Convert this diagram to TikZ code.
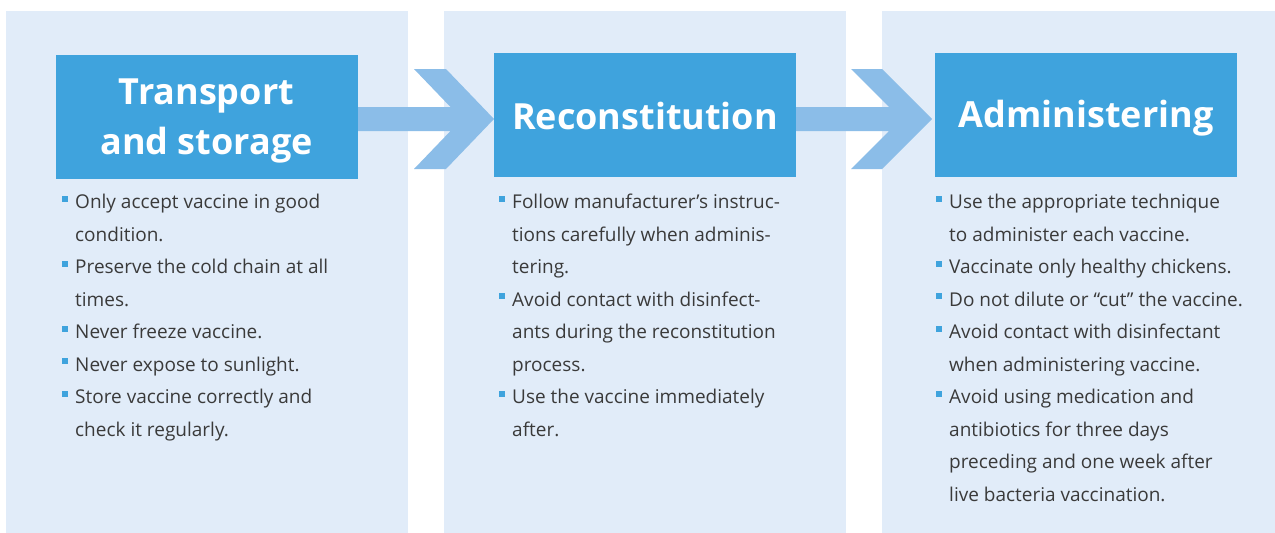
\documentclass[tikz,border=0pt]{standalone}
\usepackage{fontspec}
\setmainfont{Open Sans}
\definecolor{panelbg}{HTML}{E1ECF9}
\definecolor{headblue}{HTML}{3FA3DD}
\definecolor{arrowblue}{HTML}{8BBDE8}
\definecolor{bodygray}{HTML}{3A3A3A}
\newcommand\bul{\makebox[0pt][r]{\textcolor{headblue}{\rule[7pt]{6pt}{6pt}}\hspace{7pt}}}
\tikzset{
  panel/.style={fill=panelbg, draw=none},
  header/.style={fill=headblue, draw=none, inner sep=0pt, minimum width=302pt, minimum height=124pt},
  headtxt/.style={text=white, align=center, inner sep=0pt,
    font={\bfseries\fontsize{36}{50}\selectfont}},
  arrowshape/.style={fill=arrowblue, draw=none},
  bodytxt/.style={anchor=base west, inner sep=0pt, text=bodygray,
    font={\fontsize{19}{24}\selectfont}}
}
\begin{document}
\begin{tikzpicture}[x=1pt,y=-1pt]
\fill[white] (0,0) rectangle (1275,533);
\useasboundingbox (0,0) rectangle (1275,533);
% panels
\fill[panel] (6,11) rectangle (408,533);
\fill[panel] (444,11) rectangle (846,533);
\fill[panel] (882,11) rectangle (1275,533);
% arrows
\fill[arrowshape] (357,107) -- (450.5,107) -- (414,69) -- (446,69) -- (494,119) -- (446,169) -- (414,169) -- (450.5,131) -- (357,131) -- cycle;
\fill[arrowshape] (796,107) -- (889,107) -- (851,69) -- (882,69) -- (932,119) -- (882,169) -- (851,169) -- (889,131) -- (796,131) -- cycle;
% headers
\node[header] (h1) at (206.5,116.5) {};
\node[header] (h2) at (645,115) {};
\node[header] (h3) at (1086,115) {};
\node[headtxt] (t1) at ([yshift=-4pt]h1.center) {Transport\\and storage};
\node[headtxt] (t2) at ([yshift=-1pt]h2.center) {Reconstitution};
\node[headtxt] (t3) at ([yshift=-3pt]h3.center) {Administering};
% panel 1
\node[bodytxt] (a1) at (75,208.5) {\bul Only accept vaccine in good};
\node[bodytxt] (a2) at (75,241) {condition.};
\node[bodytxt] (a3) at (75,273.5) {\bul Preserve the cold chain at all};
\node[bodytxt] (a4) at (75,306) {times.};
\node[bodytxt] (a5) at (75,338.5) {\bul Never freeze vaccine.};
\node[bodytxt] (a6) at (75,371) {\bul Never expose to sunlight.};
\node[bodytxt] (a7) at (75,403.5) {\bul Store vaccine correctly and};
\node[bodytxt] (a8) at (75,436) {check it regularly.};
% panel 2
\node[bodytxt] (b1) at (512,208.5) {\bul Follow manufacturer’s instruc-};
\node[bodytxt] (b2) at (512,241) {tions carefully when adminis-};
\node[bodytxt] (b3) at (512,273.5) {tering.};
\node[bodytxt] (b4) at (512,306) {\bul Avoid contact with disinfect-};
\node[bodytxt] (b5) at (512,338.5) {ants during the reconstitution};
\node[bodytxt] (b6) at (512,371) {process.};
\node[bodytxt] (b7) at (512,403.5) {\bul Use the vaccine immediately};
\node[bodytxt] (b8) at (512,436) {after.};
% panel 3
\node[bodytxt] (c1) at (949,208.5) {\bul Use the appropriate technique};
\node[bodytxt] (c2) at (949,241) {to administer each vaccine.};
\node[bodytxt] (c3) at (949,273.5) {\bul Vaccinate only healthy chickens.};
\node[bodytxt] (c4) at (949,306) {\bul Do not dilute or “cut” the vaccine.};
\node[bodytxt] (c5) at (949,338.5) {\bul Avoid contact with disinfectant};
\node[bodytxt] (c6) at (949,371) {when administering vaccine.};
\node[bodytxt] (c7) at (949,403.5) {\bul Avoid using medication and};
\node[bodytxt] (c8) at (949,436) {antibiotics for three days};
\node[bodytxt] (c9) at (949,468.5) {preceding and one week after};
\node[bodytxt] (c10) at (949,501) {live bacteria vaccination.};
\end{tikzpicture}
\end{document}
